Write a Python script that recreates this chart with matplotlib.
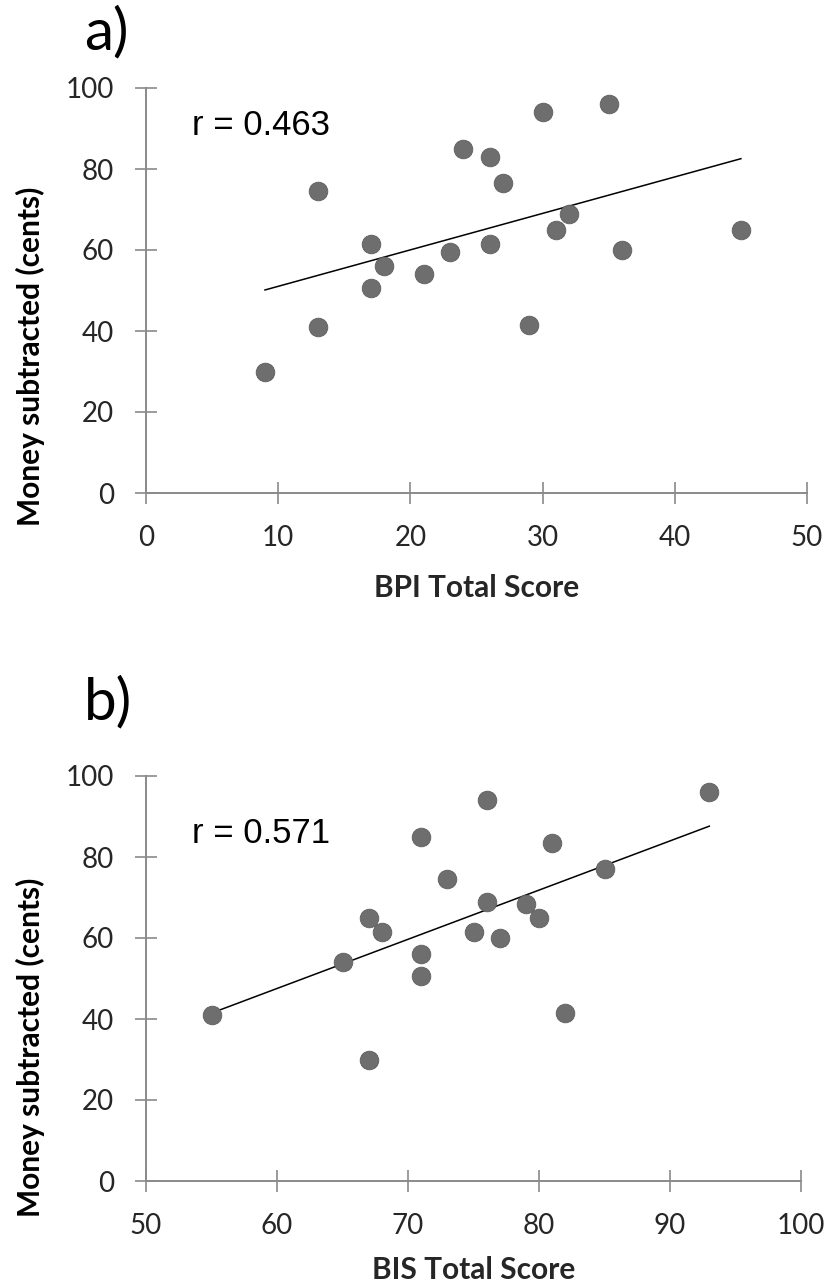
import matplotlib
matplotlib.use('Agg')
import matplotlib.pyplot as plt
import numpy as np

# дані
bpi = [9, 13, 13, 17, 17, 18, 21, 23, 24, 26, 26, 27, 29, 30, 31, 32, 35, 36, 45]
money_a = [30, 74.5, 41, 61.5, 50.5, 56, 54, 59.5, 85, 83, 61.5, 76.5, 41.5, 94, 65, 69, 96, 60, 65]
bis = [55, 65, 67, 67, 68, 71, 71, 71, 73, 75, 76, 76, 77, 79, 80, 81, 82, 85, 93]
money_b = [41, 54, 65, 30, 61.5, 85, 56, 50.5, 74.5, 61.5, 94, 69, 60, 68.5, 65, 83.5, 41.5, 77, 96]
r_text = ['r = 0.463', 'r = 0.571']
panel_tags = ['a)', 'b)']
x_labels = ['BPI Total Score', 'BIS Total Score']
y_label = 'Money subtracted (cents)'
x_ranges = [(0, 50), (50, 100)]

W, H = 830, 1287
axis_col = '#8a8a8a'
dot_col = '#6e6e6e'
text_col = '#262626'

fig = plt.figure(figsize=(W / 100, H / 100), dpi=100)

# положення осей у пікселях: (ліво, верх, право, низ)
boxes = [(146, 88, 807, 493), (146, 776, 801, 1181)]
tag_tops = [6, 676]
xlab_off = [95, 89]      # від нижньої осі до центру підпису
ylab_off = [268, 271]    # від верху осей до центру підпису
r_y = [0.884, 0.835]

for i, (xs, ys) in enumerate([(bpi, money_a), (bis, money_b)]):
    l, t, r, b = boxes[i]
    ax = fig.add_axes([l / W, 1 - b / H, (r - l) / W, (b - t) / H])

    ax.scatter(xs, ys, s=180, color=dot_col, edgecolors='#5e5e5e',
               linewidths=0.6, zorder=3, clip_on=False)

    # лінія тренду
    k, c = np.polyfit(xs, ys, 1)
    xx = np.array([min(xs), max(xs)])
    ax.plot(xx, k * xx + c, color='black', linewidth=1.1, zorder=2)

    ax.set_xlim(*x_ranges[i])
    ax.set_ylim(0, 100)
    ax.set_xticks(np.arange(x_ranges[i][0], x_ranges[i][1] + 1, 10))
    ax.set_yticks(np.arange(0, 101, 20))

    for side in ['top', 'right']:
        ax.spines[side].set_visible(False)
    for side in ['left', 'bottom']:
        ax.spines[side].set_color(axis_col)
        ax.spines[side].set_linewidth(1.4)

    ax.tick_params(direction='inout', length=16, width=1.2, color=axis_col,
                   pad=15, labelsize=20, labelcolor=text_col)
    for lab in ax.get_xticklabels() + ax.get_yticklabels():
        lab.set_family('Lato')

    ax.set_xlabel(x_labels[i], fontsize=21.5, fontweight='bold', family='Lato',
                  color=text_col)
    ax.xaxis.set_label_coords(0.5, -xlab_off[i] / (b - t))
    ax.xaxis.label.set_va('center')
    ax.set_ylabel(y_label, fontsize=21.5, fontweight='bold', family='Lato',
                  color='black')
    ax.yaxis.set_label_coords(-(l - 30) / (r - l), 1 - ylab_off[i] / (b - t))
    ax.yaxis.label.set_va('center')

    ax.text(0.07, r_y[i], r_text[i], transform=ax.transAxes,
            fontsize=25, family='Liberation Sans', color='black', va='baseline')

    fig.text(84 / W, 1 - tag_tops[i] / H, panel_tags[i], fontsize=42,
             family='Lato', color='black', va='top', ha='left')

fig.savefig('out.png', dpi=100)
